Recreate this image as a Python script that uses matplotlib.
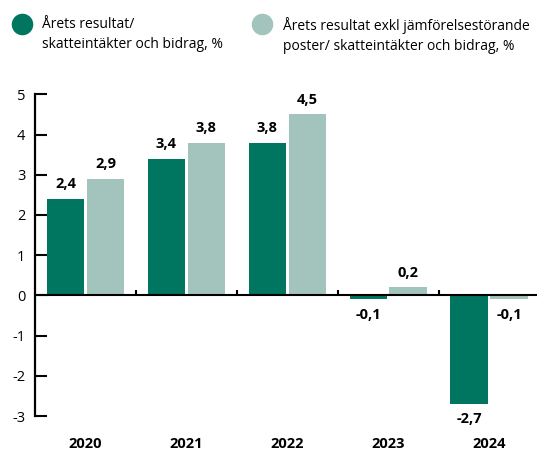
import matplotlib
matplotlib.use("Agg")
import matplotlib.pyplot as plt
from matplotlib.lines import Line2D
import numpy as np

years = ["2020", "2021", "2022", "2023", "2024"]
resultat = [2.4, 3.4, 3.8, -0.1, -2.7]
resultat_exkl = [2.9, 3.8, 4.5, 0.2, -0.1]
series_names = ["Årets resultat/\nskatteintäkter och bidrag, %",
                "Årets resultat exkl jämförelsestörande\nposter/ skatteintäkter och bidrag, %"]
colors = ["#00755F", "#A2C4BD"]
yticks = [-3, -2, -1, 0, 1, 2, 3, 4, 5]

plt.rcParams['font.family'] = ['Open Sans', 'DejaVu Sans']

W, H = 537, 450
fig = plt.figure(figsize=(W / 100, H / 100), dpi=100)
ax = fig.add_axes([35 / W, 1 - 416 / H, 1 - 35 / W, (416 - 94.3) / H])

x = np.arange(len(years))
bw = 0.37
off = 0.198
for vals, c, sgn in [(resultat, colors[0], -1), (resultat_exkl, colors[1], 1)]:
    ax.bar(x + sgn * off, vals, width=bw, color=c, zorder=2)
    for xi, v in zip(x + sgn * off, vals):
        lab = f"{v:.1f}".replace(".", ",")
        if v >= 0:
            ax.annotate(lab, (xi, v), xytext=(0, 5.5), textcoords="offset points",
                        ha="center", va="bottom", fontsize=10.5, fontweight="bold")
        else:
            ax.annotate(lab, (xi, v), xytext=(0, -6), textcoords="offset points",
                        ha="center", va="top", fontsize=10.5, fontweight="bold")

ax.set_xlim(-0.5, (537 - 85) / 101)
ax.set_ylim(-3, 5)
ax.set_yticks(yticks)
ax.set_yticklabels([str(t) for t in yticks], fontsize=10.5)
ax.tick_params(axis="y", direction="in", length=8.5, width=1.5, pad=7)
ax.set_xticks(x)
ax.set_xticklabels(years, fontsize=10.5, fontweight="bold")
ax.tick_params(axis="x", length=0, pad=15)
for s in ["top", "right", "bottom"]:
    ax.spines[s].set_visible(False)
ax.spines["left"].set_linewidth(1.6)
ax.axhline(0, color="black", lw=1.5, zorder=3)
# separator ticks on zero line
for b in x[:-1] + 0.5:
    ax.plot([b, b], [0, 0.13], color="black", lw=1.5, zorder=3, solid_capstyle="butt")

# legend
for cx, tx, c, name in [(21.7, 41.7, colors[0], series_names[0]),
                        (261.7, 283, colors[1], series_names[1])]:
    fig.add_artist(Line2D([cx / W], [1 - 24 / H], transform=fig.transFigure,
                          marker="o", ms=14.5, color=c, ls=""))
    fig.text(tx / W, 1 - 17 / H, name, fontsize=10, va="top", ha="left",
             linespacing=1.5)

fig.savefig("out.png", dpi=100)
